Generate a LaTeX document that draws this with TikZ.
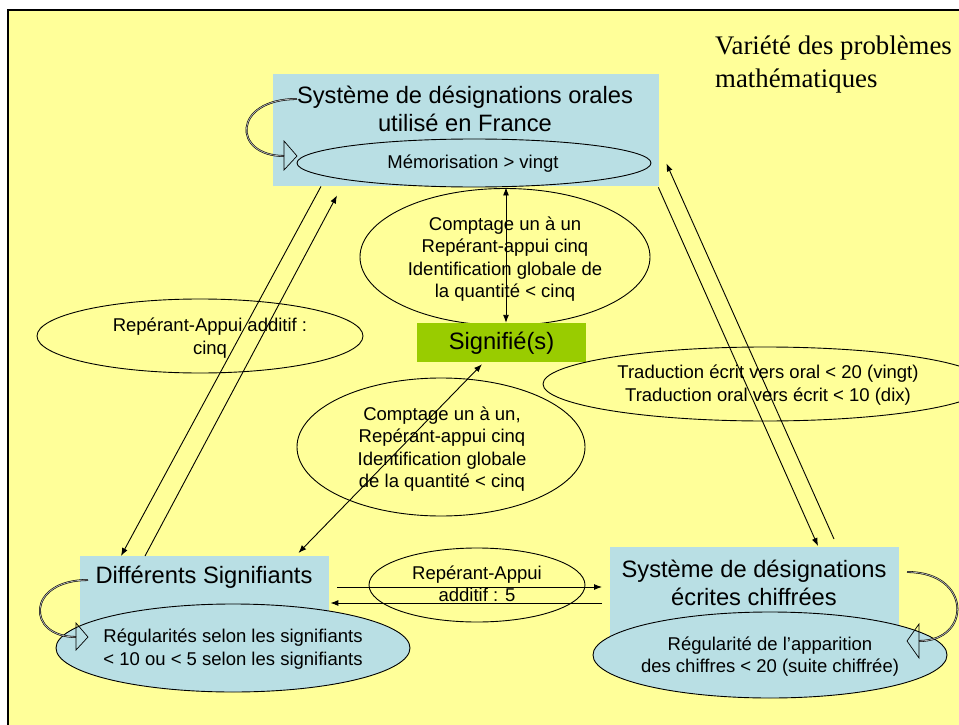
\documentclass[tikz,border=0pt]{standalone}
\usepackage{fontspec}
\setmainfont{Liberation Sans}
\newfontfamily\serifx{Liberation Serif}
\usetikzlibrary{arrows.meta,shapes.geometric}
\definecolor{bgyellow}{RGB}{255,255,153}
\definecolor{boxblue}{RGB}{185,223,228}
\definecolor{sigreen}{RGB}{153,204,0}
\tikzset{
 bigtxt/.style={font=\fontsize{23.7}{28}\selectfont, align=center, inner sep=0},
 smalltxt/.style={font=\fontsize{18.5}{22.5}\selectfont, align=center, inner sep=0},
 bluebox/.style={rectangle, fill=boxblue, draw=none, inner sep=0, anchor=north west},
 oval/.style={ellipse, draw=black, line width=0.9pt, inner sep=0},
 blueoval/.style={oval, fill=boxblue},
 arr/.style={line width=0.9pt, -{Latex[length=8pt,width=6pt]}},
 darr/.style={line width=0.9pt, {Latex[length=8pt,width=6pt]}-{Latex[length=8pt,width=6pt]}},
 loopline/.style={draw=black, line width=0.55pt, double=gray!60, double distance=0.8pt},
 loophead/.style={draw=black, line width=0.7pt},
}
\begin{document}
\begin{tikzpicture}[x=1pt,y=-1pt]
\useasboundingbox (0,0) rectangle (959,725);
\fill[white] (0,0) rectangle (959,725);
\filldraw[fill=bgyellow, draw=black, line width=1.2pt] (8,10) rectangle (975,740);

% top-right title
\node[font=\serifx\fontsize{26.8}{33}\selectfont, align=left, anchor=west, inner sep=0] (probs) at (715,65) {Variété des problèmes\\mathématiques};

% top box
\node[bluebox, minimum width=386, minimum height=112] (top) at (273,74) {};
\node[bigtxt] (toptxt) at (465,109) {Système de désignations orales\\utilisé en France};
\node[blueoval, minimum width=354, minimum height=48] (memo) at (474,163) {};
\node[smalltxt] (memotxt) at (473,164) {Mémorisation > vingt};

% upper centre ellipse
\node[oval, minimum width=290, minimum height=137] (cpt1) at (505,257) {};
\node[smalltxt] (cpt1txt) at (505,259) {Comptage un à un\\Repérant-appui cinq\\Identification globale de\\la quantité < cinq};

% signifié
\node[rectangle, fill=sigreen, inner sep=0, minimum width=169, minimum height=39] (signif) at (501.5,342.5) {};
\node[font=\fontsize{23.7}{28}\selectfont, inner sep=0] (signiftxt) at (501.5,343) {Signifié(s)};

% left ellipse
\node[oval, minimum width=326, minimum height=74] (rep1) at (200,336) {};
\node[smalltxt] (rep1txt) at (210,338) {Repérant-Appui additif :\\cinq};

% middle ellipse
\node[oval, minimum width=288, minimum height=138] (cpt2) at (441,447) {};
\node[smalltxt] (cpt2txt) at (442,449) {Comptage un à un,\\Repérant-appui cinq\\Identification globale\\de la quantité < cinq};

% right ellipse
\node[oval, minimum width=444, minimum height=74] (trad) at (765,384) {};
\node[smalltxt] (tradtxt) at (768,385) {Traduction écrit vers oral < 20 (vingt)\\Traduction oral vers écrit < 10 (dix)};

% bottom-left box
\node[bluebox, minimum width=249, minimum height=74] (diff) at (80,556) {};
\node[font=\fontsize{23.7}{28}\selectfont, inner sep=0] (difftxt) at (204,577) {Différents Signifiants};
\node[blueoval, minimum width=354, minimum height=88] (reg1) at (233,648) {};
\node[smalltxt] (reg1txt) at (233,649) {Régularités selon les signifiants\\< 10 ou < 5 selon les signifiants};

% bottom middle ellipse
\node[oval, minimum width=216, minimum height=74] (rep5) at (477,585) {};
\node[smalltxt] (rep5txt) at (477,584) {Repérant-Appui\\additif : 5};

% bottom-right box
\node[bluebox, minimum width=289, minimum height=93] (ecrit) at (610,547) {};
\node[bigtxt] (ecrittxt) at (754,582.5) {Système de désignations\\écrites chiffrées};
\node[blueoval, minimum width=354, minimum height=86] (reg2) at (770,655) {};
\node[smalltxt] (reg2txt) at (770,656.5) {Régularité de l’apparition\\des chiffres < 20 (suite chiffrée)};

% loops
\coordinate (l1a) at (297,99);
\coordinate (l1b) at (284,156);
\draw[loopline] (l1a) .. controls (232,99) and (232,156) .. (l1b);
\draw[loophead] (284,141) -- (297,156) -- (284,170) -- cycle;

\coordinate (l2a) at (88,580);
\coordinate (l2b) at (76,637);
\draw[loopline] (l2a) .. controls (26,580) and (26,637) .. (l2b);
\draw[loophead] (76,623) -- (88,637) -- (76,650) -- cycle;

\coordinate (l3a) at (907,572);
\coordinate (l3b) at (919,641);
\draw[loopline] (l3a) .. controls (972,572) and (972,641) .. (l3b);
\draw[loophead] (919,624) -- (907,641) -- (919,658) -- cycle;

% connectors
\draw[arr] ([xshift=48pt]top.south west) -- ([xshift=41pt]diff.north west);
\draw[arr] ([xshift=65pt]diff.north west) -- ([xshift=64pt,yshift=-9pt]top.south west);
\draw[darr] ([xshift=32pt]memo.south) -- ([xshift=4.5pt]signif.north);
\draw[darr] ([xshift=-31pt,yshift=3pt]diff.north east) -- ([xshift=-19.5pt,yshift=-2pt]signif.south);
\draw[arr] ([xshift=8pt,yshift=-31pt]diff.north east) -- ([xshift=-8pt,yshift=-40pt]ecrit.north west);
\draw[arr] ([xshift=-8pt,yshift=-56pt]ecrit.north west) -- ([xshift=1pt,yshift=-47pt]diff.north east);
\draw[arr] ([xshift=-1pt,yshift=-1pt]top.south east) -- ([xshift=208pt,yshift=1pt]ecrit.north west);
\draw[arr] ([xshift=224pt,yshift=8pt]ecrit.north west) -- ([xshift=7pt,yshift=23pt]top.south east);
\end{tikzpicture}
\end{document}
